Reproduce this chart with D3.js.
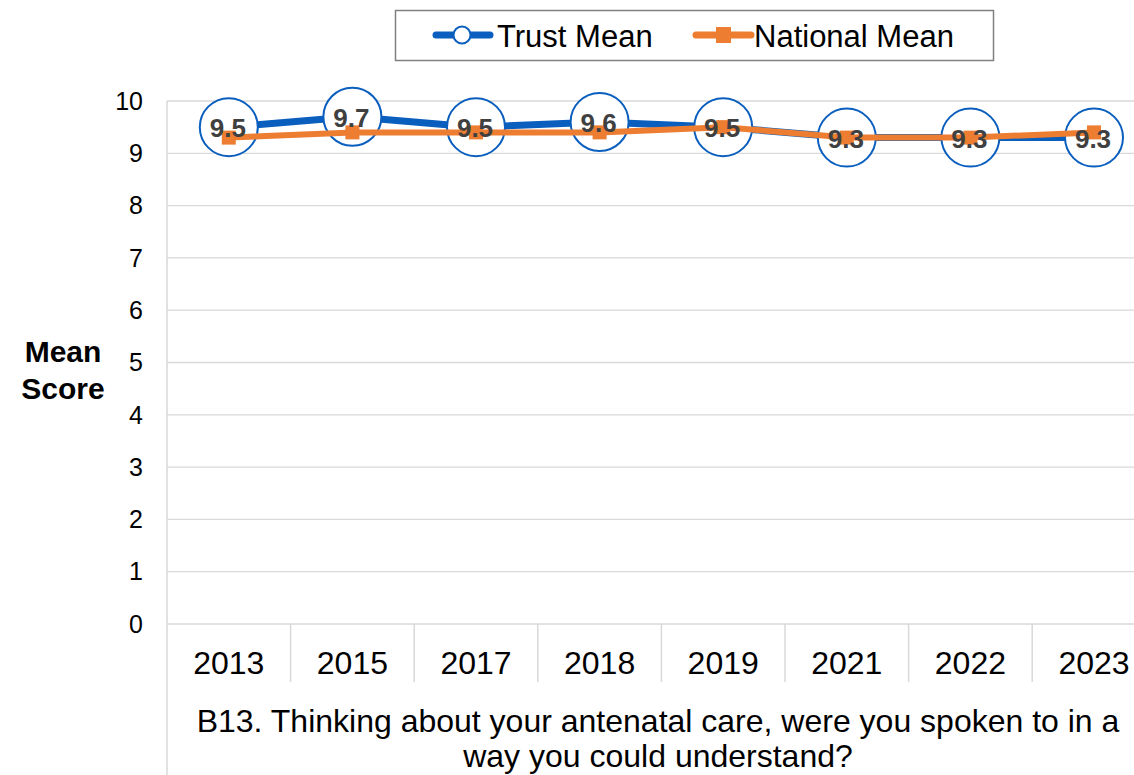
<!DOCTYPE html>
<html>
<head>
<meta charset="utf-8">
<script src="https://cdn.jsdelivr.net/npm/d3@7"></script>
<style>
  html, body { margin: 0; padding: 0; background: #fff; }
  svg { display: block; font-family: "Liberation Sans", Arial, sans-serif; }
</style>
</head>
<body>
<svg id="chart" width="1134" height="775"></svg>
<script>
// Survey years and mean scores
const years = ["2013", "2015", "2017", "2018", "2019", "2021", "2022", "2023"];
const trustMean = [9.5, 9.7, 9.5, 9.6, 9.5, 9.3, 9.3, 9.3];
const nationalMean = [9.3, 9.4, 9.4, 9.4, 9.5, 9.3, 9.3, 9.4];
const yTicks = [0, 1, 2, 3, 4, 5, 6, 7, 8, 9, 10];
const questionLines = ["B13. Thinking about your antenatal care, were you spoken to in a", "way you could understand?"];

const blue = "#0A5EBE";
const orange = "#ED7D31";
const grid = "#D9D9D9";

const svg = d3.select("#chart");
const plotLeft = 167, plotTop = 101, plotBottom = 624;
const bandW = 123.6;
const x = d3.scaleBand().domain(years).range([plotLeft, plotLeft + bandW * years.length]);
const y = d3.scaleLinear().domain([0, 10]).range([plotBottom, plotTop]);
const cx = d => x(d) + x.bandwidth() / 2;

// horizontal gridlines
svg.append("g").selectAll("line").data(yTicks).join("line")
  .attr("x1", plotLeft).attr("x2", 1134)
  .attr("y1", d => y(d)).attr("y2", d => y(d))
  .attr("stroke", grid).attr("stroke-width", 1.3);

// y tick labels
svg.append("g").selectAll("text").data(yTicks).join("text")
  .attr("x", 143).attr("y", d => y(d)).attr("dy", "0.35em")
  .attr("text-anchor", "end").attr("font-size", 25).attr("fill", "#000")
  .text(d => d);

// left axis line reaching down through the category table
svg.append("line").attr("x1", plotLeft).attr("x2", plotLeft).attr("y1", plotTop).attr("y2", 775)
  .attr("stroke", grid).attr("stroke-width", 1.5);

// category separators
svg.append("g").selectAll("line").data(years.slice(1)).join("line")
  .attr("x1", d => x(d)).attr("x2", d => x(d))
  .attr("y1", plotBottom).attr("y2", 682)
  .attr("stroke", grid).attr("stroke-width", 1.5);

// category labels
svg.append("g").selectAll("text").data(years).join("text")
  .attr("x", d => cx(d)).attr("y", 663).attr("dy", "0.35em")
  .attr("text-anchor", "middle").attr("font-size", 32).attr("fill", "#000")
  .text(d => d);

// question caption
svg.append("g").selectAll("text").data(questionLines).join("text")
  .attr("x", 658).attr("y", (d, i) => 721 + i * 35).attr("dy", "0.35em")
  .attr("text-anchor", "middle").attr("font-size", 32).attr("fill", "#000")
  .text(d => d);

// y axis title
svg.append("text").attr("x", 63).attr("y", 351).attr("dy", "0.35em")
  .attr("text-anchor", "middle").attr("font-size", 30).attr("font-weight", "bold")
  .text("Mean");
svg.append("text").attr("x", 63).attr("y", 388).attr("dy", "0.35em")
  .attr("text-anchor", "middle").attr("font-size", 30).attr("font-weight", "bold")
  .text("Score");

const line = d3.line().x((d, i) => cx(years[i])).y(d => y(d));

// trust line and circle markers
svg.append("path").datum(trustMean).attr("d", line)
  .attr("fill", "none").attr("stroke", blue).attr("stroke-width", 7)
  .attr("stroke-linejoin", "round");
svg.append("g").selectAll("circle").data(trustMean).join("circle")
  .attr("cx", (d, i) => cx(years[i])).attr("cy", d => y(d)).attr("r", 29)
  .attr("fill", "#fff").attr("stroke", blue).attr("stroke-width", 2);

// national line and square markers
svg.append("path").datum(nationalMean).attr("d", line)
  .attr("fill", "none").attr("stroke", orange).attr("stroke-width", 6)
  .attr("stroke-linejoin", "round");
svg.append("g").selectAll("rect").data(nationalMean).join("rect")
  .attr("x", (d, i) => cx(years[i]) - 7).attr("y", d => y(d) - 7)
  .attr("width", 14).attr("height", 14).attr("fill", orange);

// trust value labels
svg.append("g").selectAll("text").data(trustMean).join("text")
  .attr("x", (d, i) => cx(years[i]) - 1).attr("y", d => y(d) + 1).attr("dy", "0.35em")
  .attr("text-anchor", "middle").attr("font-size", 26).attr("font-weight", "bold")
  .attr("fill", "#404040")
  .text(d => d.toFixed(1));

// legend
const lg = svg.append("g");
lg.append("rect").attr("x", 395.5).attr("y", 10.5).attr("width", 598).attr("height", 50)
  .attr("fill", "#fff").attr("stroke", "#808080").attr("stroke-width", 1.5);
lg.append("line").attr("x1", 436).attr("x2", 490).attr("y1", 35).attr("y2", 35)
  .attr("stroke", blue).attr("stroke-width", 7).attr("stroke-linecap", "round");
lg.append("circle").attr("cx", 462).attr("cy", 35).attr("r", 8.5)
  .attr("fill", "#fff").attr("stroke", blue).attr("stroke-width", 2);
lg.append("text").attr("x", 497).attr("y", 36).attr("dy", "0.35em")
  .attr("font-size", 31).text("Trust Mean");
lg.append("line").attr("x1", 696).attr("x2", 751).attr("y1", 35).attr("y2", 35)
  .attr("stroke", orange).attr("stroke-width", 7).attr("stroke-linecap", "round");
lg.append("rect").attr("x", 716).attr("y", 27).attr("width", 15).attr("height", 16)
  .attr("fill", orange);
lg.append("text").attr("x", 754).attr("y", 36).attr("dy", "0.35em")
  .attr("font-size", 31).text("National Mean");
</script>
</body>
</html>
